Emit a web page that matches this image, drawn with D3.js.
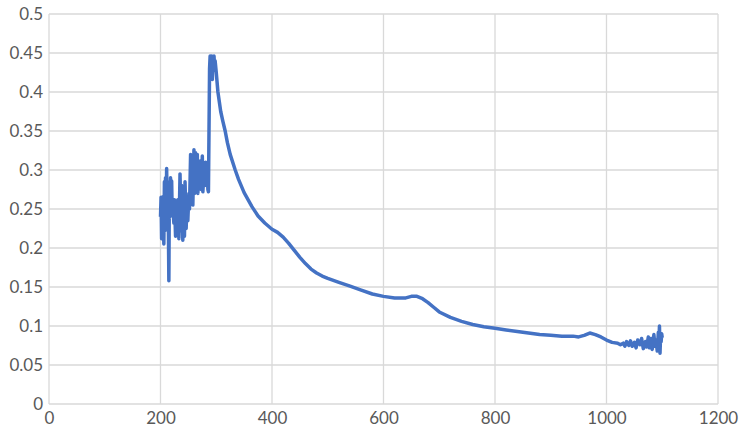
<!DOCTYPE html>
<html>
<head>
<meta charset="utf-8">
<script src="https://cdn.jsdelivr.net/npm/d3@7"></script>
<style>
  body { margin: 0; background: #fff; }
  text { font-family: Lato, "Open Sans", sans-serif; }
</style>
</head>
<body>
<script>
let w = 744;
let h = 433;
let margin = {top: 14, right: 26, bottom: 29, left: 49};

// x ticks and y ticks
let xTicks = [0, 200, 400, 600, 800, 1000, 1200];
let yTicks = [0, 0.05, 0.1, 0.15, 0.2, 0.25, 0.3, 0.35, 0.4, 0.45, 0.5];

// series (10 per line)
let xs = [
  200, 201, 202, 203, 204, 205, 206, 207, 208, 209,
  210, 211, 212, 213, 214, 215, 216, 217, 218, 219,
  220, 221, 222, 224, 225, 227, 228, 230, 231, 233,
  235, 237, 238, 240, 241, 243, 244, 246, 248, 249,
  251, 252, 254, 255, 257, 258, 260, 261, 263, 264,
  266, 267, 269, 270, 272, 273, 275, 276, 278, 279,
  281, 282, 284, 285, 286, 287, 288, 289, 290, 291,
  292, 293, 294, 295, 296, 297, 298, 300, 303, 308,
  312, 316, 320, 325, 334, 340, 350, 364, 375, 387,
  400, 410, 420, 430, 440, 450, 460, 470, 480, 490,
  500, 520, 540, 560, 580, 600, 620, 640, 650, 660,
  670, 680, 690, 700, 720, 740, 760, 780, 800, 820,
  840, 860, 880, 900, 920, 940, 950, 960, 970, 980,
  990, 1000, 1010, 1020, 1025, 1030, 1033, 1036, 1040, 1043,
  1046, 1050, 1053, 1056, 1060, 1063, 1066, 1070, 1072, 1075,
  1077, 1080, 1082, 1085, 1087, 1089, 1091, 1093, 1094, 1095,
  1096, 1097, 1098, 1099, 1100
];
let ys = [
  0.240, 0.265, 0.212, 0.262, 0.215, 0.266, 0.205, 0.285, 0.222, 0.290,
  0.232, 0.302, 0.250, 0.285, 0.240, 0.158, 0.282, 0.240, 0.290, 0.244,
  0.286, 0.245, 0.255, 0.232, 0.262, 0.215, 0.260, 0.245, 0.262, 0.212,
  0.295, 0.222, 0.280, 0.210, 0.270, 0.215, 0.285, 0.225, 0.266, 0.235,
  0.270, 0.250, 0.320, 0.262, 0.312, 0.255, 0.326, 0.270, 0.322, 0.276,
  0.320, 0.270, 0.302, 0.280, 0.312, 0.275, 0.318, 0.272, 0.300, 0.280,
  0.310, 0.282, 0.300, 0.275, 0.272, 0.350, 0.430, 0.446, 0.440, 0.418,
  0.446, 0.416, 0.444, 0.428, 0.446, 0.432, 0.440, 0.425, 0.400, 0.375,
  0.362, 0.350, 0.335, 0.320, 0.300, 0.288, 0.271, 0.253, 0.241, 0.232,
  0.224, 0.220, 0.214, 0.206, 0.197, 0.188, 0.180, 0.173, 0.168, 0.164,
  0.161, 0.156, 0.151, 0.146, 0.141, 0.138, 0.136, 0.136, 0.138, 0.138,
  0.135, 0.130, 0.124, 0.118, 0.111, 0.106, 0.102, 0.099, 0.097, 0.095,
  0.093, 0.091, 0.089, 0.088, 0.087, 0.087, 0.086, 0.088, 0.091, 0.089,
  0.086, 0.082, 0.079, 0.078, 0.076, 0.078, 0.074, 0.080, 0.075, 0.081,
  0.074, 0.079, 0.072, 0.082, 0.076, 0.084, 0.071, 0.080, 0.073, 0.086,
  0.072, 0.084, 0.070, 0.089, 0.074, 0.082, 0.068, 0.092, 0.078, 0.100,
  0.065, 0.088, 0.080, 0.090, 0.085
];

let data = xs.map((x, i) => ({x: x, y: ys[i]}));

let svg = d3.select("body")
            .append("svg")
            .attr("width", w)
            .attr("height", h);

let xScale = d3.scaleLinear([0, 1200], [margin.left, w - margin.right]);
let yScale = d3.scaleLinear([0, 0.5], [h - margin.bottom, margin.top]);

// gridlines
svg.append("g")
   .selectAll("line")
   .data(yTicks)
   .enter()
   .append("line")
   .attr("x1", xScale(0))
   .attr("x2", xScale(1200))
   .attr("y1", d => yScale(d))
   .attr("y2", d => yScale(d))
   .attr("stroke", "#d9d9d9")
   .attr("stroke-width", 1.3);
svg.append("g")
   .selectAll("line")
   .data(xTicks)
   .enter()
   .append("line")
   .attr("x1", d => xScale(d))
   .attr("x2", d => xScale(d))
   .attr("y1", yScale(0))
   .attr("y2", yScale(0.5))
   .attr("stroke", "#d9d9d9")
   .attr("stroke-width", 1.3);

let xAxis = d3.axisBottom(xScale).tickValues(xTicks).tickSize(0).tickPadding(8).tickFormat(d => d);
let yAxis = d3.axisLeft(yScale).tickValues(yTicks).tickSize(0).tickPadding(6).tickFormat(d => +d.toFixed(2));

svg.append("g")
   .attr("id", "x-axis")
   .attr("transform", `translate(0, ${h - margin.bottom})`)
   .call(xAxis)
   .call(g => g.select(".domain").remove());
svg.append("g")
   .attr("id", "y-axis")
   .attr("transform", `translate(${margin.left}, 0)`)
   .call(yAxis)
   .call(g => g.select(".domain").remove());

svg.selectAll(".tick text")
   .attr("fill", "#595959")
   .style("font-size", "17px");

let line = d3.line()
             .x(d => xScale(d.x))
             .y(d => yScale(d.y));

svg.append("path")
   .datum(data)
   .attr("fill", "none")
   .attr("stroke", "#4472c4")
   .attr("stroke-width", 3.5)
   .attr("stroke-linejoin", "round")
   .attr("d", line);
</script>
</body>
</html>
